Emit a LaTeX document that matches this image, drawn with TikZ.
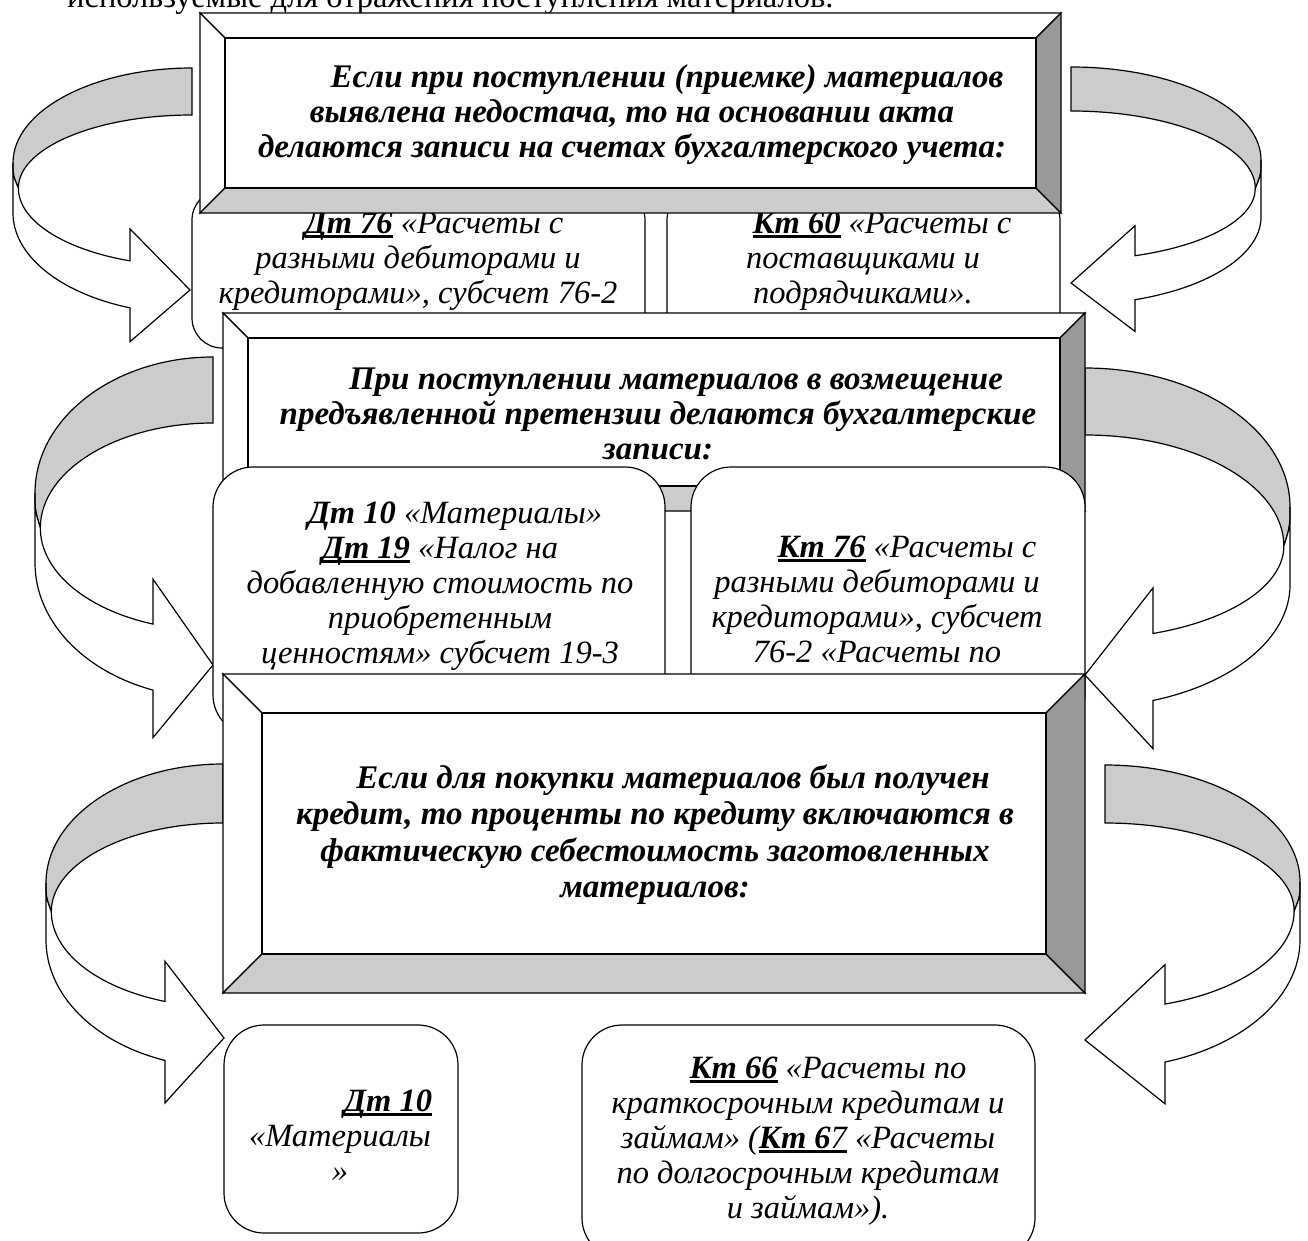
\documentclass[tikz,border=0pt]{standalone}
\usepackage{fontspec}
\setmainfont{Liberation Serif}
\usetikzlibrary{calc}

\definecolor{bandgrey}{HTML}{CCCCCC}
\definecolor{sidegrey}{HTML}{999999}

% account number: bold italic with a heavy underline
\newcommand\acct[1]{\setbox0=\hbox{\bfseries #1}\rlap{\rule[-4.5pt]{\wd0}{2.4pt}}\box0\relax}

\tikzset{
  boxline/.style={draw=black, line width=1.2pt},
  arrowline/.style={draw=black, line width=1.2pt},
  bodytext/.style={font=\fontsize{32.5}{35}\selectfont\itshape, align=center, inner sep=0pt, anchor=north},
  headtext/.style={font=\fontsize{33}{35}\selectfont\bfseries\itshape, align=center, inner sep=0pt, anchor=north},
}

% framed panel with bevelled border: left, top, right, bottom, bevel width
\newcommand\bevel[5]{%
  \filldraw[boxline, fill=white] (#1,#2) -- (#3,#2) -- ({#3-#5},{#2+#5}) -- ({#1+#5},{#2+#5}) -- cycle;
  \filldraw[boxline, fill=white] (#1,#2) -- ({#1+#5},{#2+#5}) -- ({#1+#5},{#4-#5}) -- (#1,#4) -- cycle;
  \filldraw[boxline, fill=bandgrey] (#1,#4) -- ({#1+#5},{#4-#5}) -- ({#3-#5},{#4-#5}) -- (#3,#4) -- cycle;
  \filldraw[boxline, fill=sidegrey] (#3,#2) -- (#3,#4) -- ({#3-#5},{#4-#5}) -- ({#3-#5},{#2+#5}) -- cycle;
  \filldraw[boxline, fill=white] ({#1+#5},{#2+#5}) rectangle ({#3-#5},{#4-#5});
}

% ribbon arrow curling round a side:
% band end x, outer x, band top y, band width, edge top y, edge bottom y,
% head base x, tip x, tip y
\newcommand\curvedarrow[9]{%
  \pgfmathsetmacro\qyb{#3+#4}%
  \pgfmathsetmacro\qyg{#5+0.5*(#6-#5)}%
  \pgfmathsetmacro\qxg{#2-0.03*(#2-#1)}%
  \pgfmathsetmacro\qyin{#9-0.62*#4}%
  \pgfmathsetmacro\qyout{#9+0.38*#4}%
  \pgfmathsetmacro\qybt{#9-1.3*#4}%
  \pgfmathsetmacro\qybb{#9+1.1*#4}%
  \pgfmathsetmacro\qu{(#7-#1)/(#2-#1)}%
  \pgfmathsetmacro\qv{sqrt(1-\qu*\qu)}%
  \pgfmathsetmacro\qk{4/3*tan(acos(\qu)/4)}%
  \pgfmathsetmacro\qry{(\qyout-#6)/\qv}%
  \pgfmathsetmacro\qay{#6+\qk*\qry}%
  \pgfmathsetmacro\qbx{#1+(\qu+\qk*\qv)*(#2-#1)}%
  \pgfmathsetmacro\qby{#6+(\qv-\qk*\qu)*\qry}%
  \pgfmathsetmacro\quu{(#7-#1)/(\qxg-#1)}%
  \pgfmathsetmacro\qvv{sqrt(1-\quu*\quu)}%
  \pgfmathsetmacro\qkk{4/3*tan(acos(\quu)/4)}%
  \pgfmathsetmacro\qrr{(\qyin-\qyg)/\qvv}%
  \pgfmathsetmacro\qdx{#1+(\quu+\qkk*\qvv)*(\qxg-#1)}%
  \pgfmathsetmacro\qdy{\qyg+(\qvv-\qkk*\quu)*\qrr}%
  \pgfmathsetmacro\qey{\qyg+\qkk*\qrr}%
  % back of the ribbon
  \filldraw[arrowline, fill=bandgrey] (#1,#3)
    .. controls ({#1+0.5523*(#2-#1)},#3) and (#2,{#5-0.5523*(#5-#3)}) .. (#2,#5)
    .. controls (#2,{#5+0.5*(\qyg-#5)}) .. (\qxg,\qyg)
    .. controls (\qxg,{\qyg-0.55*(\qyg-\qyb)}) and ({#1+0.5523*(\qxg-#1)},\qyb) .. (#1,\qyb)
    -- cycle;
  % front of the ribbon with the head
  \filldraw[arrowline, fill=white] (#2,#5) -- (#2,#6)
    .. controls (#2,\qay) and (\qbx,\qby) .. (#7,\qyout)
    -- (#7,\qybb) -- (#8,#9) -- (#7,\qybt) -- (#7,\qyin)
    .. controls (\qdx,\qdy) and (\qxg,\qey) .. (\qxg,\qyg)
    .. controls (#2,{#5+0.5*(\qyg-#5)}) .. (#2,#5) -- cycle;
}

\begin{document}
\begin{tikzpicture}[x=1pt, y=-1pt]
\useasboundingbox (0,0) rectangle (1308,1241);
\clip (0,0) rectangle (1308,1241);

% running text above the chart
\node[anchor=base west, inner sep=0pt, font=\fontsize{32.5}{35}\selectfont] (intro) at (67,8)
  {используемые для отражения поступления материалов.};

% side arrows
\curvedarrow{192}{13}{68}{47}{163}{213}{130}{190}{290}
\curvedarrow{1071}{1261}{67}{44}{160}{217}{1135}{1071}{283}
\curvedarrow{213}{35}{357}{66}{493}{563}{153}{213}{665}
\curvedarrow{1085}{1290}{368}{67}{507}{585}{1153}{1085}{675}
\curvedarrow{223}{46}{764}{59}{883}{940}{165}{224}{1038}
\curvedarrow{1105}{1300}{765}{58}{882}{940}{1165}{1085}{1040}

% first pair of entries
\filldraw[boxline, fill=white, rounded corners=30pt] (192,190) rectangle (645,348);
\filldraw[boxline, fill=white, rounded corners=30pt] (667,190) rectangle (1060,348);
\node[bodytext] (d76) at (418,208.5)
  {\strut\hspace*{32pt}\acct{Дт 76} «Расчеты с\\разными дебиторами и\\кредиторами», субсчет 76-2};
\node[bodytext] (k60) at (863,208.5)
  {\strut\hspace*{38pt}\acct{Кт 60} «Расчеты с\\поставщиками и\\подрядчиками».};

% first heading panel
\bevel{200}{13}{1061}{213}{25}
\node[headtext] (head1) at (632,62.5)
  {\strut\hspace*{70pt}Если при поступлении (приемке) материалов\\выявлена недостача, то на основании акта\\делаются записи на счетах бухгалтерского учета:};

% second heading panel
\bevel{223}{313}{1085}{511}{25}
\node[headtext] (head2) at (658,364.5)
  {\strut\hspace*{36pt}При поступлении материалов в возмещение\\предъявленной претензии делаются бухгалтерские\\записи:};

% second pair of entries
\filldraw[boxline, fill=white, rounded corners=40pt] (213,467) rectangle (665,735);
\filldraw[boxline, fill=white, rounded corners=40pt] (691,467) rectangle (1085,735);
\node[bodytext] (d10a) at (440,498.5)
  {\strut\hspace*{30pt}{\bfseries Дт 10} «Материалы»\\\acct{Дт 19} «Налог на\\добавленную стоимость по\\приобретенным\\ценностям» субсчет 19-3};
\node[bodytext] (k76) at (877,532.5)
  {\strut\hspace*{60pt}\acct{Кт 76} «Расчеты с\\разными дебиторами и\\кредиторами», субсчет\\76-2 «Расчеты по};

% third heading panel
\bevel{223}{674}{1085}{993}{39}
\node[headtext, font=\fontsize{33}{36.5}\selectfont\bfseries\itshape] (head3) at (655,762.5)
  {\strut\hspace*{36pt}Если для покупки материалов был получен\\кредит, то проценты по кредиту включаются в\\фактическую себестоимость заготовленных\\материалов:};

% third pair of entries
\filldraw[boxline, fill=white, rounded corners=40pt] (224,1025) rectangle (458,1233);
\filldraw[boxline, fill=white, rounded corners=40pt] (582,1025) rectangle (1035,1258);
\node[bodytext] (d10b) at (340,1086.5)
  {\strut\hspace*{96pt}\acct{Дт 10}\\«Материалы\\»};
\node[bodytext] (k66) at (808,1053.5)
  {\strut\hspace*{40pt}\acct{Кт 66} «Расчеты по\\краткосрочным кредитам и\\займам» (\acct{Кт 6{\mdseries 7}} «Расчеты\\по долгосрочным кредитам\\и займам»).};
\end{tikzpicture}
\end{document}
